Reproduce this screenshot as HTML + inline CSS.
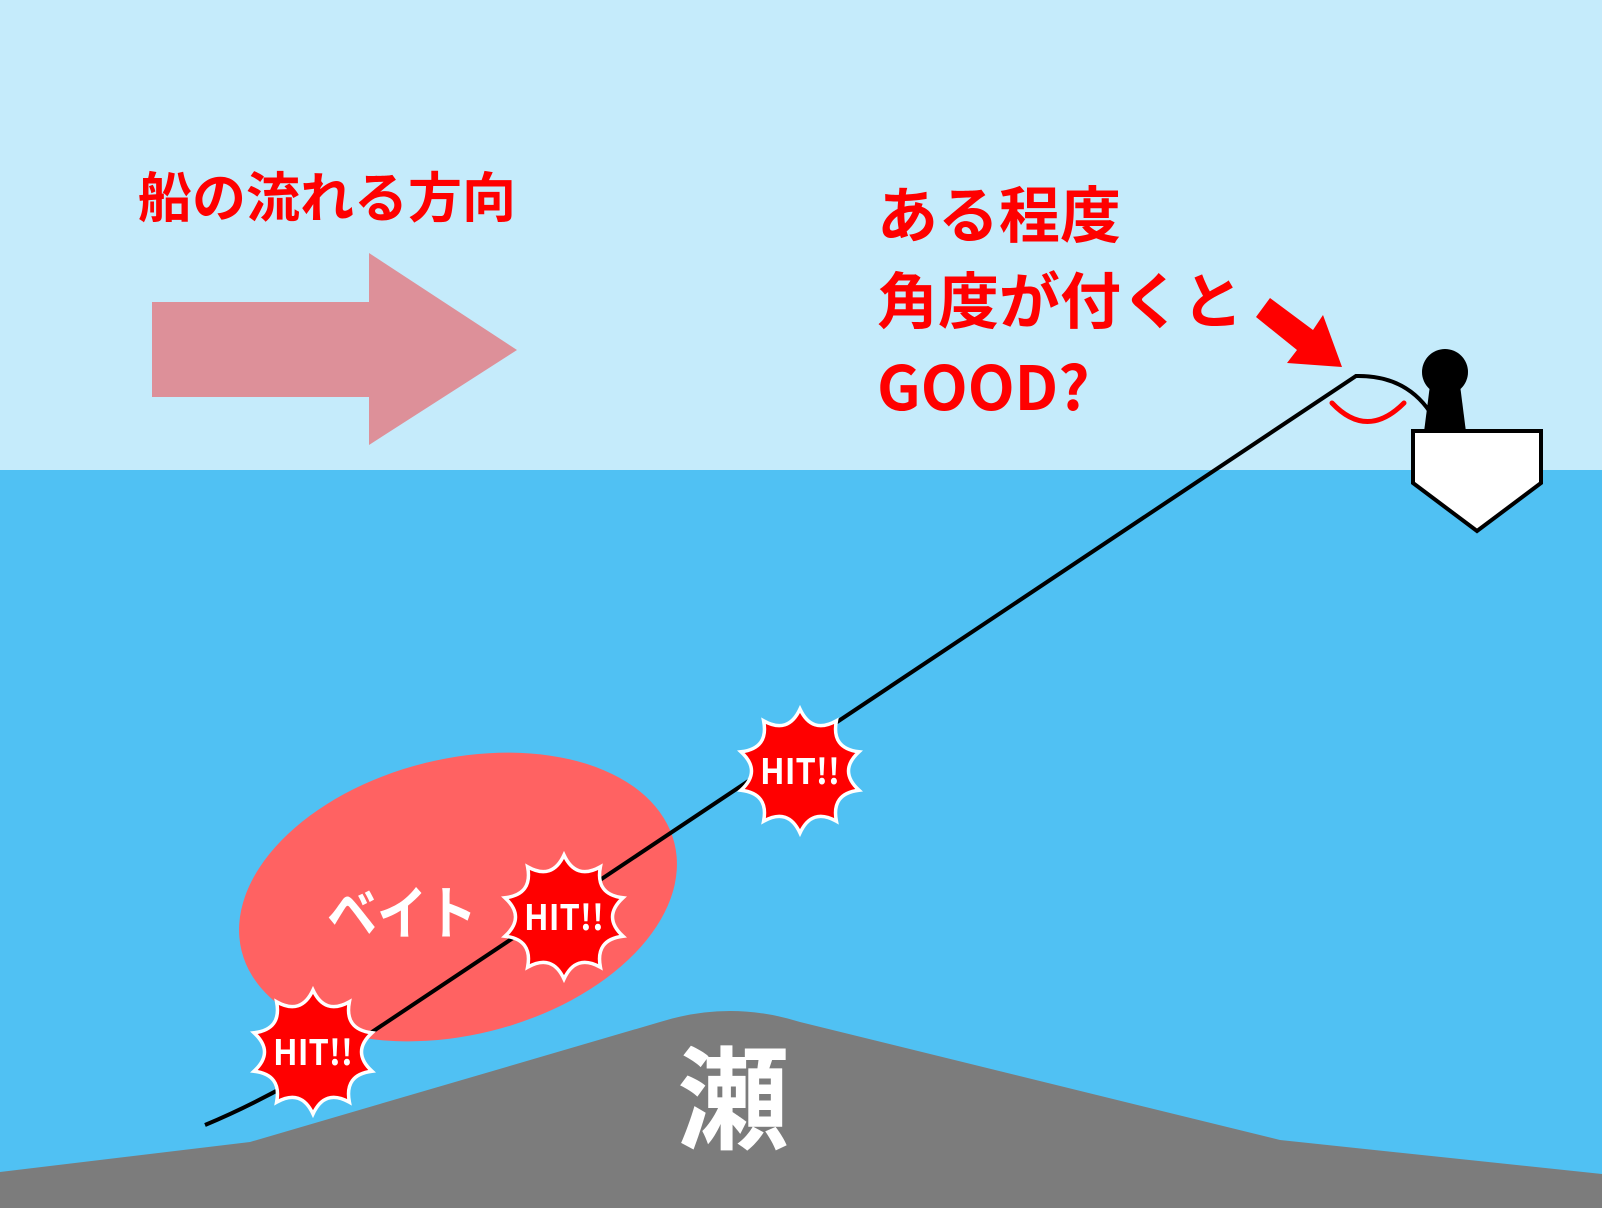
<!DOCTYPE html>
<html><head><meta charset="utf-8"><style>
html,body{margin:0;padding:0;background:#c5ebfb}
svg{display:block}
text{font-family:"Noto Sans CJK JP","Liberation Sans",sans-serif;font-weight:bold}
</style></head><body>
<svg width="1602" height="1208" viewBox="0 0 1602 1208" xmlns="http://www.w3.org/2000/svg">
<defs>
<path id="burst" d="M59,-19.2 Q38,0 59,19.2 Q31,22.5 36.4,50.2 Q11.8,36.4 0,62 Q-11.8,36.4 -36.4,50.2 Q-31,22.5 -59,19.2 Q-38,0 -59,-19.2 Q-31,-22.5 -36.4,-50.2 Q-11.8,-36.4 0,-62 Q11.8,-36.4 36.4,-50.2 Q31,-22.5 59,-19.2Z" fill="#ff0000" stroke="#fff" stroke-width="3.5"/>
</defs>
<rect x="0" y="0" width="1602" height="470" fill="#c5ebfb"/>
<rect x="0" y="470" width="1602" height="738" fill="#50c1f3"/>
<ellipse cx="458" cy="897" rx="223" ry="138" transform="rotate(-14 458 897)" fill="#ff6262"/>
<path d="M0,1172 L250,1142 L660,1022 Q730,1000 800,1022 L1280,1140 L1602,1174 L1602,1208 L0,1208Z" fill="#7c7c7c"/>
<text x="733" y="1140" font-size="112" fill="#fff" text-anchor="middle">瀬</text>
<text x="327" y="934" font-size="58" fill="#fff" textLength="150" lengthAdjust="spacingAndGlyphs">ベイト</text>
<path d="M205,1125 Q265,1100 330,1060 L1356,376 Q1405,375 1430,412" fill="none" stroke="#000" stroke-width="4"/>
<polygon points="152,302 369,302 369,253 517,350 369,445 369,397 152,397" fill="#dd9099"/>
<text x="138" y="217" font-size="54" fill="#ff0000">船の流れる方向</text>
<text x="877" y="237" font-size="61" fill="#ff0000">ある程度</text>
<text x="877" y="323" font-size="61" fill="#ff0000">角度が付くと</text>
<text x="877" y="410" font-size="61" fill="#ff0000">GOOD?</text>
<polygon points="1270,298 1256,317 1297,350 1287,363 1342,367 1323,315 1313,330" fill="#ff0000"/>
<path d="M1332,403 Q1367,440 1404,403" fill="none" stroke="#ff0000" stroke-width="5" stroke-linecap="round"/>
<polygon points="1430,385 1460,385 1466,432 1424,432" fill="#000"/>
<circle cx="1445" cy="372" r="23" fill="#000"/>
<polygon points="1413,431 1541,431 1541,483 1477,531 1413,483" fill="#fff" stroke="#000" stroke-width="4"/>
<use href="#burst" transform="translate(800,771)"/>
<use href="#burst" transform="translate(564,917)"/>
<use href="#burst" transform="translate(313,1052)"/>
<text x="800" y="784" font-size="35" fill="#fff" text-anchor="middle" textLength="80" lengthAdjust="spacingAndGlyphs">HIT!!</text>
<text x="564" y="930" font-size="35" fill="#fff" text-anchor="middle" textLength="80" lengthAdjust="spacingAndGlyphs">HIT!!</text>
<text x="313" y="1065" font-size="35" fill="#fff" text-anchor="middle" textLength="80" lengthAdjust="spacingAndGlyphs">HIT!!</text>
</svg>
</body></html>
